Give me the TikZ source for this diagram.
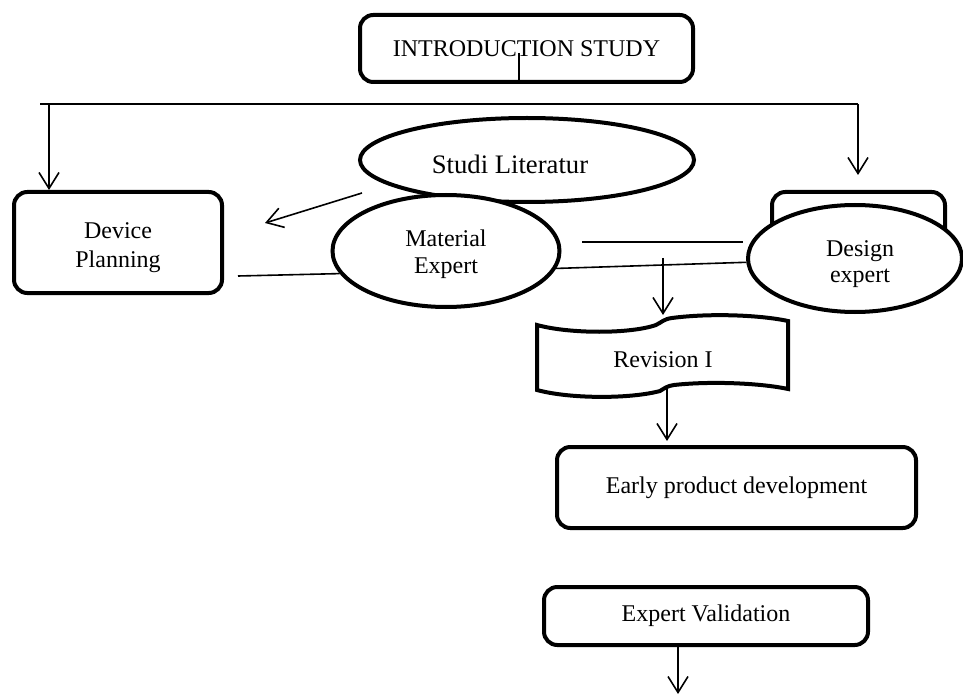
\documentclass[tikz,border=0pt]{standalone}
\usepackage{fontspec}
\setmainfont{Liberation Serif}
\usetikzlibrary{shapes.geometric,arrows.meta}
\begin{document}
\begin{tikzpicture}[x=0.75pt,y=-0.75pt,
  box/.style={draw,line width=3pt,rounded corners=10pt,inner sep=0pt,align=center,fill=white,font=\fontsize{18}{20}\selectfont},
  oval/.style={draw,ellipse,line width=3pt,fill=white,inner sep=0pt},
  lbl/.style={inner sep=0pt,align=center,font=\fontsize{18}{21}\selectfont},
  conn/.style={line width=1.2pt},
  arr/.style={conn,-{Straight Barb[length=12pt,width=15pt]}}]
\useasboundingbox (0,0) rectangle (963,695);

% boxes
\node[box,minimum width=249.75pt,minimum height=50.25pt] (intro) at (526.5,48.5) {INTRODUCTION STUDY};
\node[box,minimum width=156pt,minimum height=75.75pt] (device) at (118,242.5) {};
\node[lbl,font=\fontsize{18}{22}\selectfont] (devtxt) at (118,247.5) {Device\\Planning};
\node[box,minimum width=129.75pt,minimum height=75.75pt] (rbox) at (858.5,242.5) {};
\node[box,minimum width=269.25pt,minimum height=60.75pt] (early) at (736.5,487.5) {Early product development};
\node[box,minimum width=243pt,minimum height=43.5pt] (valid) at (706,616) {Expert Validation};

% ellipses
\node[oval,minimum width=250.5pt,minimum height=63pt] (studi) at (527,160) {};
\node[lbl,font=\fontsize{20}{24}\selectfont] (studitxt) at (510,164) {Studi Literatur};
\node[oval,minimum width=170.25pt,minimum height=84pt] (material) at (446,251) {};
\node[lbl,font=\fontsize{18}{20}\selectfont] (mattxt) at (446,254) {Material\\Expert};
\node[oval,minimum width=160.5pt,minimum height=80.25pt] (design) at (855,258.5) {};
\node[lbl,font=\fontsize{18}{20}\selectfont] (destxt) at (860,264) {Design\\expert};

% Revision I (wavy document shape)
\draw[line width=3pt,fill=white]
  (537,325) .. controls (570,334) and (630,334) .. (656,325)
  .. controls (662,322) and (664,319) .. (672,318)
  .. controls (710,313) and (760,315) .. (788,321)
  -- (788,389)
  .. controls (760,383) and (710,381) .. (674,385)
  .. controls (667,386) and (665,388) .. (660,391)
  .. controls (630,399) and (570,399) .. (537,390) -- cycle;
\node[lbl] (rev) at (663,359.5) {Revision I};

% connectors
\coordinate (s1) at (519,53);
\draw[conn] (s1) -- (s1 |- intro.south);

\coordinate (hl) at (40,104);
\coordinate (hr) at (858,104);
\coordinate (dl) at (49,104);
\coordinate (rt) at (858,175);
\draw[conn] (hl) -- (hr);
\draw[arr] (dl) -- (dl |- device.north);
\draw[arr] (hr) -- (rt);

\coordinate (a1) at (362,193);
\coordinate (a2) at (265,223);
\draw[arr] (a1) -- (a2);

\coordinate (b1) at (238,276);
\draw[conn] (b1) -- (material.192);

\coordinate (c1) at (582,242);
\coordinate (c2) at (743,242);
\draw[conn] (c1) -- (c2);
\draw[conn] (material.-9) -- (design.182);

\coordinate (r0) at (663,258);
\coordinate (r0e) at (663,315);
\draw[arr] (r0) -- (r0e);

\coordinate (r1) at (667,387);
\coordinate (r1e) at (667,441);
\draw[arr] (r1) -- (r1e);

\coordinate (v1) at (678,645);
\coordinate (v2) at (678,694);
\draw[arr] (v1 |- valid.south) -- (v2);
\end{tikzpicture}
\end{document}
